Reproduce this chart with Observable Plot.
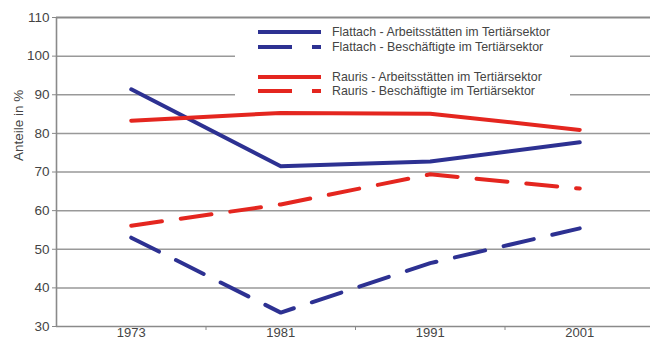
<!DOCTYPE html>
<html><head><meta charset="utf-8">
<script src="https://cdn.jsdelivr.net/npm/d3@7"></script>
<script src="https://cdn.jsdelivr.net/npm/@observablehq/plot@0.6"></script>
<style>
body{margin:0;background:#fff;font-family:"Liberation Sans",Arial,sans-serif;}
#wrap{position:relative;width:650px;height:340px;overflow:hidden;}
#legend{position:absolute;left:235px;top:19px;width:335px;height:81px;background:#fff;}
.row{position:absolute;left:23px;height:14px;display:flex;align-items:center;font-size:12.4px;color:#444;white-space:nowrap;}
.row svg{margin-right:11px;display:block}
</style></head><body><div id="wrap"><div id="legend"></div></div>
<script>
const years = ["1973", "1981", "1991", "2001"];
const flattachArbeit = [91.4, 71.5, 72.7, 77.7];
const flattachBeschaeft = [53.0, 33.6, 46.4, 55.4];
const raurisArbeit = [83.3, 85.3, 85.1, 80.9];
const raurisBeschaeft = [56.1, 61.6, 69.4, 65.7];
const seriesNames = [
  "Flattach - Arbeitsstätten im Tertiärsektor",
  "Flattach - Beschäftigte im Tertiärsektor",
  "Rauris - Arbeitsstätten im Tertiärsektor",
  "Rauris - Beschäftigte im Tertiärsektor"
];
const yTicks = [30, 40, 50, 60, 70, 80, 90, 100, 110];
const yLabel = "Anteile in %";

const BLUE = "#2d3192", RED = "#e4261f", DASH = "31,19";
const series = [
  {name: seriesNames[0], values: flattachArbeit, color: BLUE, dash: null},
  {name: seriesNames[1], values: flattachBeschaeft, color: BLUE, dash: DASH},
  {name: seriesNames[2], values: raurisArbeit, color: RED, dash: null},
  {name: seriesNames[3], values: raurisBeschaeft, color: RED, dash: DASH}
];
const rowsOf = s => years.map((y, i) => ({i, year: y, value: s.values[i], series: s.name}));

const lineMarks = series.map(s => Plot.line(rowsOf(s), {
  x: "i", y: "value", stroke: s.color, strokeWidth: 4,
  strokeDasharray: s.dash ?? undefined, strokeLinejoin: "round"
}));

const boundaries = d3.range(years.length - 1).map(i => i + 0.5);

const chart = Plot.plot({
  width: 650, height: 340,
  marginLeft: 56, marginRight: 0, marginTop: 17, marginBottom: 14,
  style: {fontFamily: '"Liberation Sans", Arial, sans-serif', color: "#444", background: "transparent"},
  x: {type: "linear", domain: [-0.5, years.length - 0.5], range: [56, 654]},
  y: {domain: [30, 110]},
  marks: [
    Plot.ruleY(yTicks.filter(t => t > 30 && t < 110), {stroke: "#999", strokeWidth: 1.5}),
    Plot.ruleY([110], {stroke: "#8a8a8a", strokeWidth: 2.2}),
    Plot.ruleY([30], {stroke: "#8a8a8a", strokeWidth: 1.6}),
    Plot.ruleX([-0.5], {stroke: "#8a8a8a", strokeWidth: 1.6}),
    Plot.axisY({ticks: yTicks, tickSize: 4, tickPadding: 3, fontSize: 13.5, stroke: "#888", fill: "#444", label: null}),
    Plot.axisX({ticks: d3.range(years.length), tickFormat: i => years[i], tickSize: 0, tickPadding: 1.5, fontSize: 13, fill: "#444", label: null}),
    Plot.axisX({ticks: boundaries, tickFormat: () => "", tickSize: 4, stroke: "#888", label: null}),
    Plot.text([yLabel], {frameAnchor: "left", dx: -38, dy: -11, rotate: -90, fontSize: 13.5, fill: "#444"}),
    ...lineMarks
  ]
});
document.getElementById("wrap").prepend(chart);

// legend (inside plot area on white box)
const legend = document.getElementById("legend");
const rowTops = [6, 21, 51, 65];
series.forEach((s, k) => {
  const row = document.createElement("div");
  row.className = "row";
  row.style.top = rowTops[k] + "px";
  const svg = d3.create("svg").attr("width", 63).attr("height", 6);
  svg.append("line").attr("x1", 0).attr("x2", 63).attr("y1", 3).attr("y2", 3)
    .attr("stroke", s.color).attr("stroke-width", 4)
    .attr("stroke-dasharray", s.dash ? "34,20" : null);
  row.appendChild(svg.node());
  const span = document.createElement("span");
  span.textContent = s.name;
  row.appendChild(span);
  legend.appendChild(row);
});
</script>
</body></html>
